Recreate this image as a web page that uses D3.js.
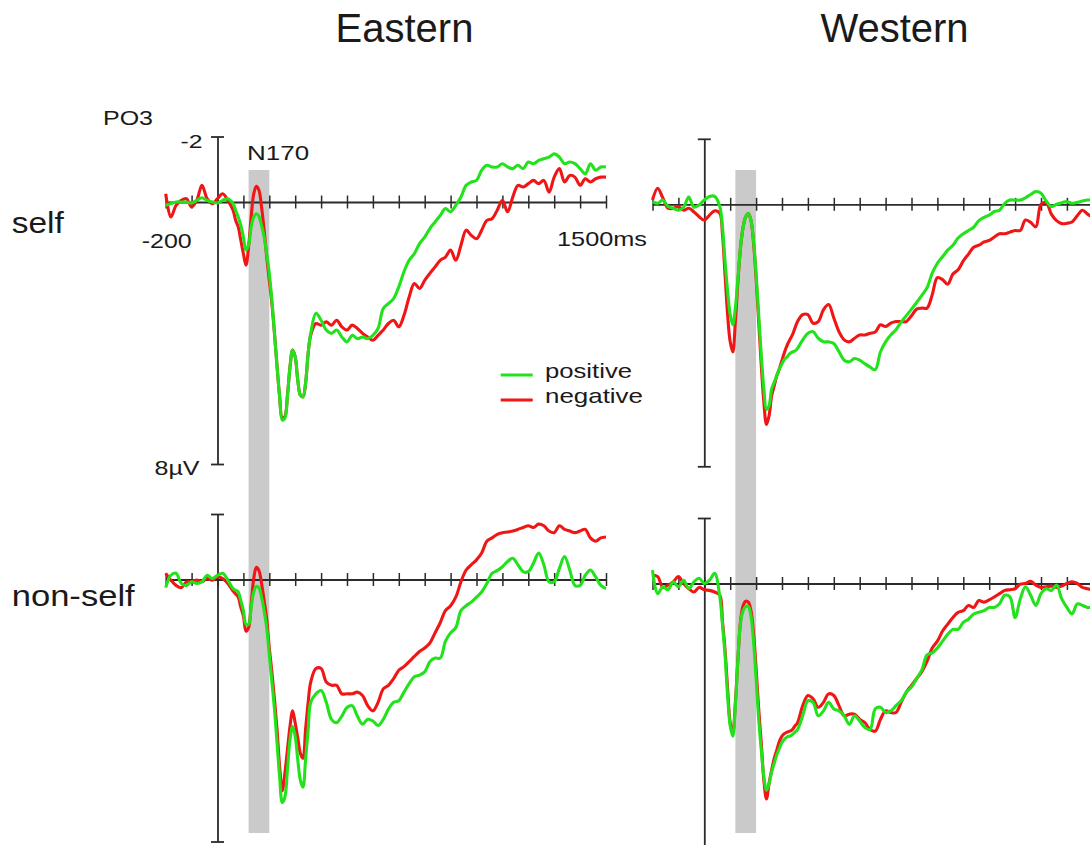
<!DOCTYPE html>
<html>
<head>
<meta charset="utf-8">
<script src="https://cdn.jsdelivr.net/npm/d3@7"></script>
<style>
  body { margin: 0; background: #fff; }
  svg { display: block; }
  text { font-family: "Liberation Sans", Arial, Helvetica, sans-serif; fill: #1a1a1a; }
</style>
</head>
<body>
<svg id="chart" width="1090" height="845"></svg>
<script>
// ---- Data: grand-average ERP at PO3 (µV), negative plotted upward ----
// sample times in ms (20 ms steps, 10 ms steps around the early components)
const times = [
  -200,-180,-160,-140,-120,-100,-80,-60,-40,-20,0,20,40,
  60,70,80,90,100,110,120,130,140,150,160,170,180,190,200,210,220,230,240,250,260,270,280,290,300,310,320,330,340,350,
  360,380,400,420,440,460,480,500,520,540,560,580,600,620,640,660,680,700,720,740,760,780,800,820,840,860,880,900,
  920,940,960,980,1000,1020,1040,1060,1080,1100,1120,1140,1160,1180,1200,1220,1240,1260,1280,1300,1320,1340,1360,
  1380,1400,1420,1440,1460,1480,1500
];

const columnLabels = ["Eastern", "Western"];
const rowLabels = ["self", "non-self"];
const conditionLabels = ["positive", "negative"];
const xTickValues = [-200,-100,0,100,200,300,400,500,600,700,800,900,1000,1100,1200,1300,1400,1500];
const yTickValues = [-2, 8];
const n170Window = [120, 200];

// Eastern / self
const eastSelfPos = [
  0.1,0.05,0,0,0,0.03,-0.05,-0.13,-0.05,0,0.03,-0.05,-0.1,
  0.05,0.25,0.46,0.71,1.07,1.47,1.32,0.76,0.46,0.36,0.44,0.71,1.07,1.58,2.18,3.0,4.01,5.03,5.95,6.66,6.6,5.95,5.03,4.52,4.73,5.44,5.9,5.95,5.54,4.62,
  4.01,3.4,3.61,3.91,4.01,3.91,4.12,4.27,4.07,4.17,4.12,4.17,4.07,3.86,3.25,3.1,2.95,2.59,2.13,1.78,1.58,1.27,1.07,0.81,0.61,0.41,0.2,0.3,
  0.1,-0.15,-0.51,-0.61,-0.66,-0.97,-1.12,-1.07,-1.07,-1.17,-1.07,-1.02,-1.12,-1.02,-1.22,-1.17,-1.27,-1.32,-1.37,-1.47,-1.37,-1.17,-1.22,
  -1.17,-1.02,-0.86,-1.17,-0.97,-1.07,-1.07
];
const eastSelfNeg = [
  -0.25,0.46,0.1,-0.05,-0.1,0.15,-0.05,-0.51,-0.1,0.05,-0.1,-0.25,-0.05,
  0.25,0.56,0.76,1.17,1.58,1.93,1.37,0.46,-0.25,-0.48,-0.36,0.15,0.86,1.68,2.39,3.1,4.01,5.03,5.95,6.6,6.55,5.9,5.03,4.52,4.73,5.44,5.9,5.95,5.54,4.62,
  4.06,3.71,3.76,3.66,3.76,3.61,3.81,3.91,3.76,3.86,4.01,4.12,4.22,4.07,3.91,3.71,3.61,3.81,3.46,2.9,2.49,2.64,2.39,2.18,1.98,1.78,1.68,1.47,
  1.78,1.32,0.86,1.02,1.12,0.86,0.56,0.51,0.25,-0.05,0.3,-0.15,-0.51,-0.46,-0.56,-0.66,-0.56,-0.66,-0.3,-0.76,-1.02,-0.61,-0.81,
  -0.76,-0.51,-0.71,-0.61,-0.71,-0.76,-0.76
];

// Western / self
const westSelfPos = [
  -0.08,-0.03,-0.13,0.07,0.12,0.18,0.09,-0.22,0.09,0.02,-0.13,-0.24,-0.24,
  0.07,0.69,1.72,2.65,3.37,3.68,3.16,2.24,1.31,0.69,0.38,0.28,0.48,1.1,2.13,3.37,4.61,5.64,6.26,6.15,5.64,5.43,5.23,5.02,4.87,4.73,4.66,4.56,4.51,4.48,
  4.4,4.14,3.94,3.89,4.09,4.2,4.2,4.25,4.5,4.76,4.81,4.71,4.76,4.87,4.97,5.05,4.51,4.2,3.99,3.83,3.6,3.4,3.2,3.0,2.78,2.55,2.1,1.8,
  1.6,1.4,1.25,1.03,0.9,0.8,0.7,0.5,0.4,0.33,0.22,0.18,-0.03,-0.13,-0.13,-0.13,-0.2,-0.3,-0.39,-0.34,-0.1,0.07,0.0,
  -0.05,-0.08,-0.03,-0.06,-0.1,-0.13,-0.13
];
const westSelfNeg = [
  -0.13,-0.49,-0.19,0.12,0.12,0.07,0.18,0.12,0.23,0.38,0.48,0.33,0.2,
  0.28,0.9,2.13,3.37,4.2,4.51,3.58,2.34,1.31,0.69,0.38,0.28,0.48,1.16,2.24,3.58,4.92,6.05,6.72,6.46,5.85,5.54,5.23,5.02,4.76,4.51,4.3,4.14,3.99,3.78,
  3.58,3.37,3.37,3.63,3.58,3.22,3.06,3.47,3.89,4.14,4.2,4.09,3.99,3.99,3.94,3.9,3.68,3.73,3.63,3.58,3.58,3.58,3.4,3.2,3.17,3.17,2.76,2.24,
  2.3,2.44,2.13,2.0,1.73,1.52,1.31,1.25,1.15,1.1,1.0,0.9,0.9,0.85,0.8,0.8,0.48,0.55,0.69,0.0,-0.05,0.3,0.5,
  0.59,0.58,0.54,0.35,0.18,0.3,0.4
];

// Eastern / non-self
const eastNonPos = [
  0.25,-0.13,-0.19,0.12,0.18,0.07,0.12,0.07,-0.13,-0.03,-0.13,-0.19,0.02,
  0.28,0.33,0.38,0.64,0.95,1.37,1.37,0.85,0.38,0.21,0.25,0.54,0.95,1.47,2.3,3.13,3.96,5.0,6.03,6.81,6.65,5.82,4.89,4.48,4.79,5.51,6.13,6.34,5.51,4.58,
  3.75,3.49,3.39,3.75,4.27,4.37,4.17,3.91,3.85,4.17,4.42,4.27,4.32,4.46,4.27,3.96,3.75,3.7,3.44,3.18,2.97,2.92,2.82,2.51,2.4,2.4,1.89,1.63,
  1.47,0.95,0.8,0.69,0.54,0.38,0.12,-0.19,-0.27,-0.39,-0.55,-0.65,-0.45,-0.24,-0.24,-0.5,-0.81,-0.45,0.07,0.07,-0.34,-0.7,-0.29,
  0.18,0.18,-0.13,-0.29,-0.08,0.18,0.28
];
const eastNonNeg = [
  -0.19,0.02,0.18,0.25,0.07,0.07,0.02,0.07,-0.03,0.02,-0.08,-0.03,0.12,
  0.35,0.44,0.54,0.85,1.11,1.58,1.47,0.75,-0.03,-0.37,-0.27,0.12,0.64,1.21,2.09,2.82,3.65,4.59,5.72,6.45,5.93,5.2,4.48,4.01,4.38,4.84,5.31,5.46,4.58,3.75,
  3.13,2.72,2.72,3.13,3.23,3.23,3.49,3.49,3.49,3.44,3.54,3.85,4.01,3.75,3.34,3.23,3.03,2.77,2.66,2.51,2.35,2.2,2.09,1.94,1.63,1.32,0.95,0.8,
  0.54,0.07,-0.29,-0.45,-0.6,-0.81,-1.17,-1.27,-1.38,-1.43,-1.45,-1.48,-1.53,-1.59,-1.64,-1.59,-1.69,-1.64,-1.48,-1.43,-1.64,-1.53,-1.48,
  -1.43,-1.48,-1.53,-1.27,-1.17,-1.27,-1.3
];

// Western / non-self
const westNonPos = [
  -0.41,0.31,0.1,0.19,-0.05,0.1,-0.1,0.16,-0.05,-0.16,0,-0.1,-0.31,
  0.41,1.24,2.18,3.42,4.35,4.66,3.73,2.28,1.19,0.83,0.7,0.7,0.98,1.76,2.9,4.15,5.08,5.91,6.32,6.11,5.75,5.49,5.23,5.03,4.85,4.75,4.68,4.66,4.61,4.54,
  4.46,4.04,3.58,3.63,4.04,3.89,3.63,3.83,3.89,4.04,4.3,4.04,4.2,4.4,4.46,3.83,3.78,3.94,3.89,3.73,3.58,3.32,3.16,2.9,2.64,2.18,2.12,1.97,
  1.76,1.55,1.4,1.4,1.19,1.09,0.93,0.88,0.83,0.73,0.73,0.62,0.36,0.41,1.04,0.47,0.1,0.36,0.67,0.31,0.16,0.21,0.05,
  0.47,0.73,0.93,0.62,0.67,0.73,0.73
];
const westNonNeg = [
  -0.26,-0.21,0.12,0.05,-0.05,-0.21,0,0.16,0.26,0.12,0.19,0.21,0.26,
  0.36,1.14,2.02,3.21,4.25,4.56,3.63,2.28,1.14,0.67,0.54,0.57,0.83,1.5,2.59,3.83,4.87,6.01,6.58,6.11,5.7,5.34,5.08,4.82,4.66,4.58,4.54,4.51,4.46,4.35,
  4.25,3.73,3.42,3.52,3.78,3.63,3.37,3.42,3.73,4.04,3.99,3.99,4.15,4.25,4.46,4.51,4.15,3.89,3.94,3.94,3.63,3.32,3.11,2.9,2.69,2.38,1.97,1.76,
  1.45,1.24,1.04,0.88,0.83,0.67,0.73,0.52,0.57,0.5,0.41,0.31,0.21,0.19,0.16,0.02,0,-0.07,0.05,0.12,0.1,0.08,0.12,
  0.08,0,-0.05,0,0.12,0.16,0.2
];

// ---- Layout ----
const svg = d3.select("#chart");
const COLORS = { positive: "#22e21c", negative: "#f01616", axis: "#2b2b2b", band: "#cacaca" };

const columnX = [[165.7, 606.0], [652.5, 1092.8]];   // pixel range for -200..1500 ms
const PX_PER_UV = 32.75;

const panels = [
  { col: 0, row: 0, pos: eastSelfPos, neg: eastSelfNeg, top: 136.5 },
  { col: 1, row: 0, pos: westSelfPos, neg: westSelfNeg, top: 138.8 },
  { col: 0, row: 1, pos: eastNonPos,  neg: eastNonNeg,  top: 514.0 },
  { col: 1, row: 1, pos: westNonPos,  neg: westNonNeg,  top: 518.0 }
];

const xScales = columnX.map(r => d3.scaleLinear().domain([-200, 1500]).range(r));

// N170 window band spans both rows of each column
xScales.forEach(x => {
  svg.append("rect")
    .attr("x", x(n170Window[0]))
    .attr("y", 170)
    .attr("width", x(n170Window[1]) - x(n170Window[0]))
    .attr("height", 663)
    .attr("fill", COLORS.band);
});

panels.forEach(p => {
  const x = xScales[p.col];
  const y = d3.scaleLinear().domain([-2, 8]).range([p.top, p.top + 10 * PX_PER_UV]);
  const g = svg.append("g");

  // time axis through zero, ticks crossing the line
  const xAxis = g.append("g")
    .attr("transform", `translate(0,${y(0)})`)
    .call(d3.axisBottom(x).tickValues(xTickValues).tickSizeOuter(0).tickFormat(""));
  xAxis.select(".domain").attr("stroke", COLORS.axis).attr("stroke-width", 1.8);
  xAxis.selectAll(".tick line").attr("y1", -6.5).attr("y2", 6.5)
    .attr("stroke", COLORS.axis).attr("stroke-width", 1.5);

  // amplitude axis at stimulus onset, capped at -2 and 8 µV
  const yAxis = g.append("g")
    .attr("transform", `translate(${x(0)},0)`)
    .call(d3.axisLeft(y).tickValues(yTickValues).tickSizeOuter(0).tickFormat(""));
  yAxis.select(".domain").attr("stroke", COLORS.axis).attr("stroke-width", 1.8);
  yAxis.selectAll(".tick line").attr("x1", -6.5).attr("x2", 6.5)
    .attr("stroke", COLORS.axis).attr("stroke-width", 1.8);

  const line = d3.line()
    .x((d, i) => x(times[i]))
    .y(d => y(d))
    .curve(d3.curveCatmullRom.alpha(0.5));

  if (p.neg.length !== times.length || p.pos.length !== times.length) {
    console.error("series length mismatch", p.col, p.row, p.pos.length, p.neg.length, times.length);
  }

  g.append("path").datum(p.neg)
    .attr("d", line).attr("fill", "none")
    .attr("stroke", COLORS.negative).attr("stroke-width", 3.1)
    .attr("stroke-linejoin", "round");
  g.append("path").datum(p.pos)
    .attr("d", line).attr("fill", "none")
    .attr("stroke", COLORS.positive).attr("stroke-width", 3.1)
    .attr("stroke-linejoin", "round");

  p.x = x; p.y = y;
});

// ---- Text ----
function label(txt, x, y, size, opts = {}) {
  const t = svg.append("text")
    .attr("x", x).attr("y", y)
    .attr("font-size", size)
    .text(txt);
  if (opts.anchor) t.attr("text-anchor", opts.anchor);
  if (opts.len) t.attr("textLength", opts.len).attr("lengthAdjust", "spacingAndGlyphs");
  return t;
}

label(columnLabels[0], 404.5, 42, 40, { anchor: "middle" });
label(columnLabels[1], 894.5, 42, 40, { anchor: "middle" });
label(rowLabels[0], 11.7, 233, 30, { len: 52 });
label(rowLabels[1], 11.7, 606, 30, { len: 123 });

const tl = panels[0];
label("PO3", 103, 125, 21, { len: 50 });
label("-2", tl.x(0) - 37, tl.y(-2) + 11.5, 19, { len: 22 });
label("8µV", tl.x(0) - 63, tl.y(8) + 11, 20, { len: 45 });
label("N170", tl.x(n170Window[0]) - 1.5, 160, 21, { len: 62 });
label("-200", tl.x(-200) - 24, tl.y(0) + 46, 21, { len: 50 });
label("1500ms", tl.x(1500) - 49, tl.y(0) + 44, 21, { len: 90 });

// legend
const legend = svg.append("g");
[["positive", COLORS.positive, 375, 378], ["negative", COLORS.negative, 400, 403]].forEach(([name, c, ly, ty], i) => {
  legend.append("line").attr("x1", 500.7).attr("x2", 532.7).attr("y1", ly).attr("y2", ly)
    .attr("stroke", c).attr("stroke-width", 3);
  const t = legend.append("text").attr("x", 545).attr("y", ty).attr("font-size", 21)
    .attr("textLength", i === 0 ? 87 : 98).attr("lengthAdjust", "spacingAndGlyphs")
    .text(conditionLabels[i]);
});
</script>
</body>
</html>
